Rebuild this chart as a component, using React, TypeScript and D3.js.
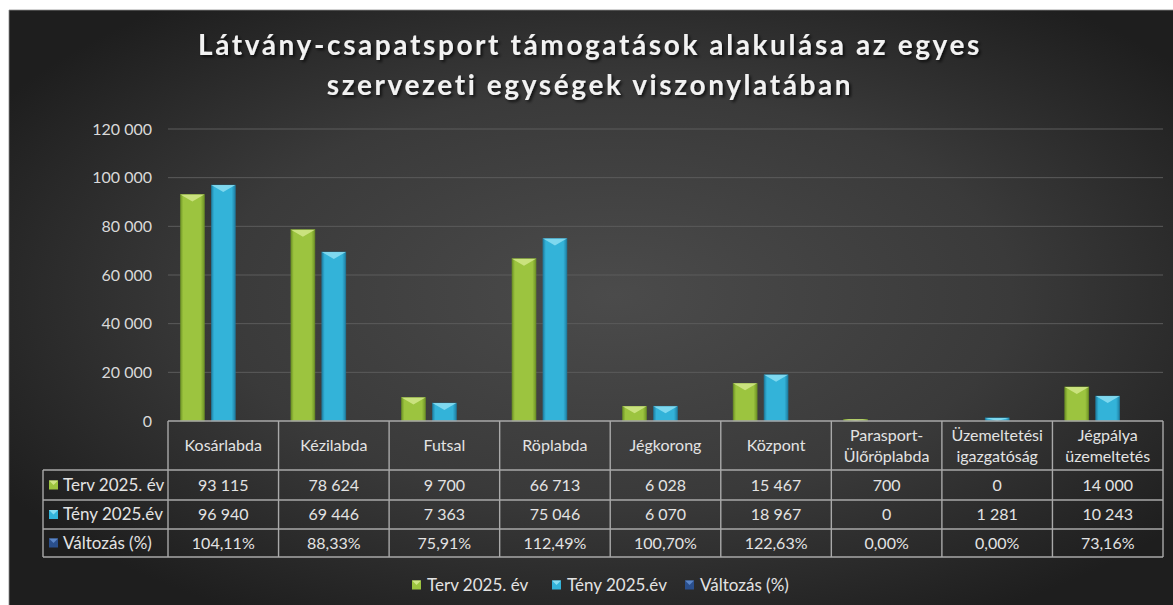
import React, { useEffect, useRef } from 'react';
import * as d3 from 'd3';

// chart data
const categories = [
  'Kosárlabda',
  'Kézilabda',
  'Futsal',
  'Röplabda',
  'Jégkorong',
  'Központ',
  'Parasport-\nÜlőröplabda',
  'Üzemeltetési\nigazgatóság',
  'Jégpálya\nüzemeltetés',
];
const tervValues = [93115, 78624, 9700, 66713, 6028, 15467, 700, 0, 14000];
const tenyValues = [96940, 69446, 7363, 75046, 6070, 18967, 0, 1281, 10243];
const valtozasValues = [104.11, 88.33, 75.91, 112.49, 100.7, 122.63, 0, 0, 73.16];
const yTicks = [0, 20000, 40000, 60000, 80000, 100000, 120000];
const titleLines = [
  'Látvány-csapatsport támogatások alakulása az egyes',
  'szervezeti egységek viszonylatában',
];
const seriesNames = ['Terv 2025. év', 'Tény 2025.év', 'Változás (%)'];

const W = 1173;
const H = 605;
const FONT = 'Lato, "Open Sans", sans-serif';

const huLocale = d3.formatLocale({
  decimal: ',',
  thousands: ' ',
  grouping: [3],
  currency: ['', ''],
});
const fmtNum = huLocale.format(',.0f');
const fmtPct = (v: number) => huLocale.format('.2f')(v) + '%';

type Series = { key: string; name: string; values: number[]; base: string; light: string; dark: string };

const App = () => {
  const svgRef = useRef<SVGSVGElement>(null);

  useEffect(() => {
    const svg = d3.select(svgRef.current);
    svg.selectAll('*').remove();
    svg.attr('width', W).attr('height', H);

    const series: Series[] = [
      { key: 'terv', name: seriesNames[0], values: tervValues, base: '#9cc43f', light: '#cfe585', dark: '#6f9426' },
      { key: 'teny', name: seriesNames[1], values: tenyValues, base: '#33b3d9', light: '#86dcf1', dark: '#1f7fa3' },
      // percentages sit on the same axis as fractions, so these bars are ~0 high
      { key: 'valt', name: seriesNames[2], values: valtozasValues.map(v => v / 100), base: '#2a4f8c', light: '#5b86c8', dark: '#17305c' },
    ];

    const defs = svg.append('defs');

    // background
    const bg = defs.append('radialGradient').attr('id', 'bg')
      .attr('cx', '52%').attr('cy', '48%').attr('r', '62%');
    bg.append('stop').attr('offset', '0%').attr('stop-color', '#4b4b4b');
    bg.append('stop').attr('offset', '55%').attr('stop-color', '#3a3a3a');
    bg.append('stop').attr('offset', '100%').attr('stop-color', '#1e1e1e');

    series.forEach(s => {
      const g = defs.append('linearGradient').attr('id', `bar-${s.key}`)
        .attr('x1', '0%').attr('x2', '100%').attr('y1', '0%').attr('y2', '0%');
      g.append('stop').attr('offset', '0%').attr('stop-color', s.dark);
      g.append('stop').attr('offset', '12%').attr('stop-color', s.base);
      g.append('stop').attr('offset', '85%').attr('stop-color', s.base);
      g.append('stop').attr('offset', '100%').attr('stop-color', s.dark);
    });

    const shadow = defs.append('filter').attr('id', 'tshadow')
      .attr('x', '-5%').attr('y', '-20%').attr('width', '110%').attr('height', '150%');
    shadow.append('feDropShadow').attr('dx', 2).attr('dy', 2).attr('stdDeviation', 1.5)
      .attr('flood-color', '#000').attr('flood-opacity', 0.7);

    svg.append('rect').attr('x', 0).attr('y', 0).attr('width', W).attr('height', H).attr('fill', '#fff');
    svg.append('rect').attr('x', 9).attr('y', 10).attr('width', W - 9).attr('height', H - 10)
      .attr('fill', 'url(#bg)');
    svg.append('path').attr('d', `M9,${H}V10H${W}`)
      .attr('fill', 'none').attr('stroke', '#8a8a8a').attr('stroke-width', 0.8);

    // title
    svg.append('g').selectAll('text')
      .data(titleLines)
      .enter().append('text')
      .attr('x', 590)
      .attr('y', (d, i) => 55 + i * 40)
      .attr('text-anchor', 'middle')
      .attr('filter', 'url(#tshadow)')
      .style('font-family', FONT)
      .style('font-size', '28px')
      .style('font-weight', '700')
      .style('letter-spacing', '2.6px')
      .style('fill', '#f2f2f2')
      .text(d => d);

    // scales
    const y = d3.scaleLinear().domain([0, 120000]).range([421, 129]);
    const x = d3.scaleBand<string>().domain(categories).range([168, 1163]);
    const xSub = d3.scaleBand<string>().domain(series.map(s => s.key))
      .range([0, x.bandwidth()]).paddingInner(0.226).paddingOuter(0.4);

    // grid + y labels
    const grid = svg.append('g');
    grid.selectAll('line')
      .data(yTicks.filter(t => t > 0))
      .enter().append('line')
      .attr('x1', 168).attr('x2', 1163)
      .attr('y1', d => y(d)).attr('y2', d => y(d))
      .style('stroke', '#5c5c5c').style('stroke-width', 1);

    svg.append('g').selectAll('text')
      .data(yTicks)
      .enter().append('text')
      .attr('x', 152)
      .attr('y', d => y(d))
      .attr('dy', '0.35em')
      .attr('text-anchor', 'end')
      .style('font-family', FONT)
      .style('font-size', '16px')
      .style('fill', '#d9d9d9')
      .text(d => fmtNum(d));

    // bars
    const bw = xSub.bandwidth();
    series.forEach(s => {
      const g = svg.append('g').attr('class', `series-${s.key}`);
      const data = s.values.map((v, i) => ({ cat: categories[i], v }));
      const bars = g.selectAll('g.bar')
        .data(data.filter(d => y(0) - y(d.v) >= 0.5))
        .enter().append('g').attr('class', 'bar');

      bars.append('rect')
        .attr('x', d => (x(d.cat) as number) + (xSub(s.key) as number))
        .attr('y', d => y(d.v))
        .attr('width', bw)
        .attr('height', d => y(0) - y(d.v))
        .style('fill', `url(#bar-${s.key})`)
        .style('stroke', s.dark)
        .style('stroke-width', 0.6);

      // bevelled top
      bars.append('path')
        .attr('d', d => {
          const x0 = (x(d.cat) as number) + (xSub(s.key) as number);
          const y0 = y(d.v);
          const h = Math.min(7, y(0) - y0);
          return `M${x0},${y0}L${x0 + bw},${y0}L${x0 + bw / 2},${y0 + h}Z`;
        })
        .style('fill', s.light)
        .style('opacity', 0.9);
    });

    // data table
    const rowEdges = [421, 470, 500, 529, 557];
    const colEdges = categories.map(c => x(c) as number).concat([1163]);
    const table = svg.append('g').style('stroke', '#a9a9a9').style('stroke-width', 1.4);

    table.append('line').attr('x1', 168).attr('x2', 1163).attr('y1', rowEdges[0]).attr('y2', rowEdges[0]);
    rowEdges.slice(1).forEach(ry => {
      table.append('line').attr('x1', 43).attr('x2', 1163).attr('y1', ry).attr('y2', ry);
    });
    colEdges.forEach(cx => {
      table.append('line').attr('x1', cx).attr('x2', cx).attr('y1', rowEdges[0]).attr('y2', rowEdges[4]);
    });
    table.append('line').attr('x1', 43).attr('x2', 43).attr('y1', rowEdges[1]).attr('y2', rowEdges[4]);

    const textStyle = (sel: d3.Selection<SVGTextElement, any, any, any>, size = 16) =>
      sel.style('font-family', FONT).style('font-size', `${size}px`).style('fill', '#e3e3e3');

    // header row
    categories.forEach(c => {
      const lines = c.split('\n');
      const cx = (x(c) as number) + x.bandwidth() / 2;
      const mid = (rowEdges[0] + rowEdges[1]) / 2;
      lines.forEach((ln, i) => {
        svg.append('text')
          .attr('x', cx)
          .attr('y', mid + (i - (lines.length - 1) / 2) * 21)
          .attr('dy', '0.35em')
          .attr('text-anchor', 'middle')
          .call(textStyle)
          .text(ln);
      });
    });

    // value rows
    const rowFormats = [fmtNum, fmtNum, fmtPct];
    const rowValues = [tervValues, tenyValues, valtozasValues];
    series.forEach((s, r) => {
      const cy = (rowEdges[r + 1] + rowEdges[r + 2]) / 2;
      // legend key
      svg.append('rect').attr('x', 49).attr('y', cy - 4.5).attr('width', 9).attr('height', 9)
        .style('fill', s.base);
      svg.append('path')
        .attr('d', `M49,${cy - 4.5}L58,${cy - 4.5}L53.5,${cy}Z`)
        .style('fill', s.light);
      svg.append('text')
        .attr('x', 63).attr('y', cy).attr('dy', '0.35em')
        .call(textStyle, 17)
        .text(s.name);

      rowValues[r].forEach((v, i) => {
        svg.append('text')
          .attr('x', (x(categories[i]) as number) + x.bandwidth() / 2)
          .attr('y', cy)
          .attr('dy', '0.35em')
          .attr('text-anchor', 'middle')
          .call(textStyle)
          .text(rowFormats[r](v));
      });
    });

    // legend
    const legendX = [412, 552, 685];
    const legend = svg.append('g');
    series.forEach((s, i) => {
      const lx = legendX[i];
      const ly = 585;
      legend.append('rect').attr('x', lx).attr('y', ly - 4.5).attr('width', 9).attr('height', 9)
        .style('fill', s.base);
      legend.append('path')
        .attr('d', `M${lx},${ly - 4.5}L${lx + 9},${ly - 4.5}L${lx + 4.5},${ly}Z`)
        .style('fill', s.light);
      legend.append('text')
        .attr('x', lx + 15).attr('y', ly).attr('dy', '0.35em')
        .call(textStyle, 17)
        .text(s.name);
    });
  }, []);

  return (
    <div style={{ position: 'fixed', left: 0, top: 0, width: W, height: H, overflow: 'hidden' }}>
      <svg ref={svgRef} style={{ display: 'block' }}></svg>
    </div>
  );
};

export default App;
